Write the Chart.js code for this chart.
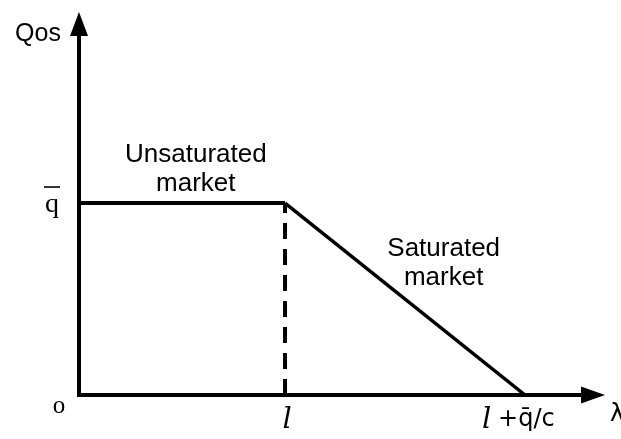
<!DOCTYPE html>
<html>
<head>
<meta charset="utf-8">
<script src="https://cdn.jsdelivr.net/npm/chart.js@4.4.1/dist/chart.umd.min.js"></script>
<style>
  html, body { margin: 0; padding: 0; background: #fff; }
  #wrap { width: 621px; height: 439px; }
</style>
</head>
<body>
<div id="wrap"><canvas id="qosChart"></canvas></div>
<script>
// piecewise QoS curve (x in units of l, y in units of q-bar)
const breakX = [0, 1, 2.165];        // o, l, l + q/c
const breakY = [1, 1, 0];
const xTickLabels = ['o', 'l', '+q\u0304/c'];
const yTickLabels = ['q'];           // overline drawn by hand
const yTickValues = [1];
const axisNames = { x: '\u03bb', y: 'Qos' };
const regionNotes = [
  { lines: ['Unsaturated', 'market'], x: 0.567, y: 1.25 },
  { lines: ['Saturated', 'market'], x: 1.77, y: 0.76 }
];

const flat = [{ x: breakX[0], y: breakY[0] }, { x: breakX[1], y: breakY[1] }];
const slope = [{ x: breakX[1], y: breakY[1] }, { x: breakX[2], y: breakY[2] }];
const drop = [{ x: breakX[1], y: 0 }, { x: breakX[1], y: breakY[1] }];

// axes with arrow heads + all the labels
const axesPlugin = {
  id: 'axesPlugin',
  afterDatasetsDraw(chart) {
    const { ctx, chartArea: a, scales } = chart;
    const x0 = scales.x.getPixelForValue(0);
    const y0 = scales.y.getPixelForValue(0);
    ctx.save();
    ctx.strokeStyle = '#000';
    ctx.fillStyle = '#000';
    ctx.lineWidth = 4;

    // y axis
    ctx.beginPath();
    ctx.moveTo(x0, y0 + 2);
    ctx.lineTo(x0, a.top + 20);
    ctx.stroke();
    ctx.beginPath();
    ctx.moveTo(x0, a.top);
    ctx.lineTo(x0 - 9, a.top + 24);
    ctx.lineTo(x0 + 9, a.top + 24);
    ctx.closePath();
    ctx.fill();

    // x axis
    ctx.beginPath();
    ctx.moveTo(x0 - 2, y0);
    ctx.lineTo(a.right - 20, y0);
    ctx.stroke();
    ctx.beginPath();
    ctx.moveTo(a.right, y0);
    ctx.lineTo(a.right - 24, y0 - 8.5);
    ctx.lineTo(a.right - 24, y0 + 8.5);
    ctx.closePath();
    ctx.fill();

    ctx.textBaseline = 'middle';
    ctx.textAlign = 'center';

    // axis names
    ctx.font = '25px "Liberation Sans", Arial, sans-serif';
    ctx.fillText(axisNames.y, x0 - 41, a.top + 22);
    ctx.textAlign = 'left';
    ctx.font = '24px "DejaVu Sans", sans-serif';
    ctx.fillText(axisNames.x, a.right + 5, y0 + 20);

    // y tick (q bar)
    ctx.textAlign = 'center';
    ctx.font = '28px "Liberation Serif", "DejaVu Serif", serif';
    yTickValues.forEach((v, i) => {
      const py = scales.y.getPixelForValue(v);
      ctx.fillText(yTickLabels[i], x0 - 27, py + 2);
      ctx.lineWidth = 1.6;
      ctx.beginPath();
      ctx.moveTo(x0 - 35, py - 16);
      ctx.lineTo(x0 - 19, py - 16);
      ctx.stroke();
    });

    // x ticks
    const ty = y0 + 25;
    ctx.font = '25px "Liberation Serif", serif';
    ctx.fillText(xTickLabels[0], scales.x.getPixelForValue(breakX[0]) - 20, y0 + 11);
    ctx.font = 'italic 29px "DejaVu Serif", serif';
    ctx.fillText(xTickLabels[1], scales.x.getPixelForValue(breakX[1]) + 2, ty);
    const ex = scales.x.getPixelForValue(breakX[2]);
    ctx.textAlign = 'left';
    ctx.fillText(xTickLabels[1], ex - 43, ty);
    ctx.font = '24px "DejaVu Sans", sans-serif';
    ctx.fillText(xTickLabels[2], ex - 27, ty);

    // region notes
    ctx.textAlign = 'center';
    ctx.font = '26px "Liberation Sans", Arial, sans-serif';
    regionNotes.forEach(n => {
      const px = scales.x.getPixelForValue(n.x);
      const py = scales.y.getPixelForValue(n.y);
      n.lines.forEach((t, k) => ctx.fillText(t, px, py + k * 29));
    });
    ctx.restore();
  }
};

new Chart(document.getElementById('qosChart'), {
  type: 'scatter',
  data: {
    datasets: [
      { data: flat, showLine: true, borderColor: '#000', borderWidth: 4, pointRadius: 0 },
      { data: slope, showLine: true, borderColor: '#000', borderWidth: 3.5, pointRadius: 0 },
      { data: drop, showLine: true, borderColor: '#000', borderWidth: 4, borderDash: [16, 10], pointRadius: 0 }
    ]
  },
  options: {
    responsive: true,
    maintainAspectRatio: false,
    animation: false,
    layout: { padding: { left: 79, right: 16, top: 12, bottom: 44 } },
    plugins: { legend: { display: false }, tooltip: { enabled: false } },
    scales: {
      x: { type: 'linear', min: 0, max: 2.553, display: false },
      y: { type: 'linear', min: 0, max: 1.995, display: false }
    }
  },
  plugins: [axesPlugin]
});
</script>
</body>
</html>
